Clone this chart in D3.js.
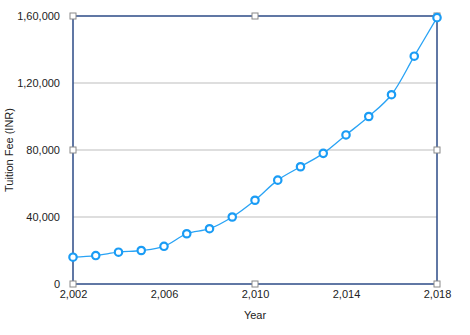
<!DOCTYPE html>
<html>
<head>
<meta charset="utf-8">
<script src="https://cdn.jsdelivr.net/npm/d3@7"></script>
<style>
  body { margin: 0; background: #fff; }
  text { font-family: "Liberation Sans", Arial, sans-serif; fill: #222; }
</style>
</head>
<body>
<div class="chartHolder"></div>
<script>
const years = [2002, 2003, 2004, 2005, 2006, 2007, 2008, 2009, 2010,
               2011, 2012, 2013, 2014, 2015, 2016, 2017, 2018];
const fees = [16000, 17000, 19000, 20000, 22500, 30000, 33000, 40000, 50000,
              62000, 70000, 78000, 89000, 100000, 113000, 136000, 159000];
const xTicks = [2002, 2006, 2010, 2014, 2018];
const yTicks = [0, 40000, 80000, 120000, 160000];
const yTickLabels = ["0", "40,000", "80,000", "1,20,000", "1,60,000"];

const fullWidth = 470;
const fullHeight = 335;
const plotLeft = 73, plotRight = 437, plotTop = 16, plotBottom = 284;

const svg = d3.select(".chartHolder")
   .append("svg")
   .attr("width", fullWidth)
   .attr("height", fullHeight);

const xScale = d3.scaleLinear()
   .domain([2002, 2018])
   .range([plotLeft, plotRight]);
const yScale = d3.scaleLinear()
   .domain([0, 160000])
   .range([plotBottom, plotTop]);

// gridlines
svg.append("g")
   .selectAll("line")
   .data(yTicks.filter(d => d > 0 && d < 160000))
   .enter()
   .append("line")
   .attr("x1", plotLeft)
   .attr("x2", plotRight)
   .attr("y1", d => yScale(d))
   .attr("y2", d => yScale(d))
   .attr("stroke", "#bdbdbd")
   .attr("stroke-width", 1);

// axes
const xAxis = d3.axisBottom(xScale)
   .tickValues(xTicks)
   .tickSize(0)
   .tickPadding(6)
   .tickFormat(d => d3.format(",")(d));
const yAxis = d3.axisLeft(yScale)
   .tickValues(yTicks)
   .tickSize(0)
   .tickPadding(13)
   .tickFormat((d, i) => yTickLabels[i]);

const gx = svg.append("g")
   .attr("transform", "translate(0," + plotBottom + ")")
   .call(xAxis);
const gy = svg.append("g")
   .attr("transform", "translate(" + plotLeft + ",0)")
   .call(yAxis);
[gx, gy].forEach(g => {
   g.select(".domain").remove();
   g.selectAll("text")
      .style("font-size", "11px")
      .style("font-family", "'Liberation Sans', Arial, sans-serif")
      .attr("fill", "#222");
});

// frame
svg.append("rect")
   .attr("x", plotLeft)
   .attr("y", plotTop)
   .attr("width", plotRight - plotLeft)
   .attr("height", plotBottom - plotTop)
   .attr("fill", "none")
   .attr("stroke", "#2d4b87")
   .attr("stroke-width", 1.5);

// axis titles
svg.append("text")
   .attr("x", (plotLeft + plotRight) / 2)
   .attr("y", 319)
   .attr("text-anchor", "middle")
   .style("font-size", "11px")
   .text("Year");
svg.append("text")
   .attr("transform", "translate(13," + ((plotTop + plotBottom) / 2) + ") rotate(-90)")
   .attr("text-anchor", "middle")
   .style("font-size", "11px")
   .text("Tuition Fee (INR)");

// selection handles
const midX = (plotLeft + plotRight) / 2, midY = (plotTop + plotBottom) / 2;
const handles = [[plotLeft, plotTop], [midX, plotTop], [plotRight, plotTop], [plotLeft, midY],
                 [plotRight, midY], [plotLeft, plotBottom], [midX, plotBottom], [plotRight, plotBottom]];

// series line
const line = d3.line()
   .x((d, i) => xScale(years[i]))
   .y(d => yScale(d))
   .curve(d3.curveCatmullRom.alpha(0.5));
svg.append("path")
   .datum(fees)
   .attr("d", line)
   .attr("fill", "none")
   .attr("stroke", "#29a3f5")
   .attr("stroke-width", 1.3);

svg.append("g")
   .selectAll("rect")
   .data(handles)
   .enter()
   .append("rect")
   .attr("x", d => d[0] - 3)
   .attr("y", d => d[1] - 3)
   .attr("width", 6)
   .attr("height", 6)
   .attr("fill", "#fff")
   .attr("stroke", "#8a8a8a")
   .attr("stroke-width", 1);

svg.append("g")
   .selectAll("circle")
   .data(fees)
   .enter()
   .append("circle")
   .attr("cx", (d, i) => xScale(years[i]))
   .attr("cy", d => yScale(d))
   .attr("r", 3.7)
   .attr("fill", "#fff")
   .attr("stroke", "#1a9cf5")
   .attr("stroke-width", 2.2);
</script>
</body>
</html>
